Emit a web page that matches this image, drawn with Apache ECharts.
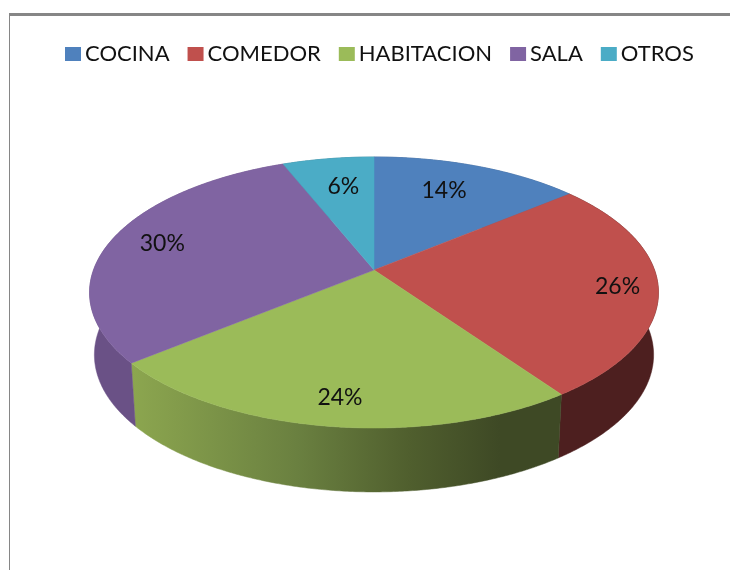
<!DOCTYPE html>
<html>
<head>
<meta charset="utf-8">
<script src="https://cdn.jsdelivr.net/npm/echarts@6/dist/echarts.min.js"></script>
<style>html,body{margin:0;padding:0;background:#fff}#c{width:730px;height:570px}</style>
</head>
<body>
<div id="c"></div>
<script>
const categories = ['COCINA', 'COMEDOR', 'HABITACION', 'SALA', 'OTROS'];
const percentages = [14.0, 26.2, 23.9, 29.8, 6.1];
const colors = ['#4f81bd', '#c0504d', '#9bbb59', '#8064a2', '#4bacc6'];

// Projection of the tilted disc (perspective squeeze of a circle)
const apexX = 374, apexY = 270, scaleX = 280.5, scaleY = 131.8, persp = 0.166;
const depth = 62, bottomScaleX = 0.983, bottomScaleY = 1.012;
const labelRadius = [0.735, 0.856, 0.844, 0.805, 0.726];
const labelNudge = [[-9, 0], [1, 1], [3, 0], [0, -1], [4, 1]];
const FONT = 'Lato, "Open Sans", sans-serif';

function rad(pct) { return pct / 100 * Math.PI * 2; }
function rim(theta, r, bottom) {
  const u = r * Math.sin(theta), v = r * Math.cos(theta), d = 1 + persp * v;
  const x = scaleX * u / d, y = scaleY * v / d;
  return bottom
    ? [apexX + x * bottomScaleX, apexY + depth - y * bottomScaleY]
    : [apexX + x, apexY - y];
}
function arc(a, b, bottom) {
  const n = Math.max(2, Math.ceil((b - a) * 120)), pts = [];
  for (let i = 0; i <= n; i++) pts.push(rim(a + (b - a) * i / n, 1, bottom));
  return pts;
}
function sideFill(i) {
  if (i === 2) {
    return new echarts.graphic.LinearGradient(132, 0, 500, 0, [
      { offset: 0, color: '#8ca64f' },
      { offset: 0.45, color: '#6a8040' },
      { offset: 0.75, color: '#505f2e' },
      { offset: 1, color: '#3e4925' }
    ], true);
  }
  return ['#3d5f8a', '#4d1f1f', '', '#6a5186', '#35798b'][i];
}
function renderSlice(i) {
  return function () {
    const start = percentages.slice(0, i).reduce((s, v) => s + v, 0);
    const a = rad(start), b = rad(start + percentages[i]), mid = (a + b) / 2;
    const top = arc(a, b, false);
    const side = top.concat(arc(a, b, true).reverse());
    const lp = rim(mid, labelRadius[i], false);
    const fill = sideFill(i);
    return {
      type: 'group',
      children: [
        { type: 'polygon', z2: 1, shape: { points: side },
          style: { fill: fill, stroke: fill, lineWidth: 0.5 } },
        { type: 'polygon', z2: 2, shape: { points: [[apexX, apexY]].concat(top) },
          style: { fill: colors[i], stroke: colors[i], lineWidth: 0.5 } },
        { type: 'text', z2: 3,
          style: { text: Math.round(percentages[i]) + '%', x: lp[0] + labelNudge[i][0], y: lp[1] + labelNudge[i][1], fill: '#111',
                   fontSize: 23, fontFamily: FONT, align: 'center', verticalAlign: 'middle' } }
      ]
    };
  };
}

const chart = echarts.init(document.getElementById('c'), null, { renderer: 'canvas' });
chart.setOption({
  animation: false,
  backgroundColor: '#ffffff',
  legend: {
    data: categories,
    left: 60, top: 38,
    icon: 'rect',
    itemWidth: 16, itemHeight: 14, itemGap: 18,
    textStyle: { fontSize: 22, fontFamily: FONT, color: '#111', padding: [0, 0, 0, -1] },
    selectedMode: false
  },
  graphic: [
    { type: 'line', shape: { x1: 9, y1: 14.5, x2: 730, y2: 14.5 }, style: { stroke: '#868686', lineWidth: 3 } },
    { type: 'line', shape: { x1: 9.5, y1: 14, x2: 9.5, y2: 570 }, style: { stroke: '#868686', lineWidth: 1 } }
  ],
  series: categories.map((name, i) => ({
    type: 'custom',
    name: name,
    coordinateSystem: 'none',
    silent: true,
    itemStyle: { color: colors[i] },
    data: [percentages[i]],
    renderItem: renderSlice(i)
  }))
});
</script>
</body>
</html>
